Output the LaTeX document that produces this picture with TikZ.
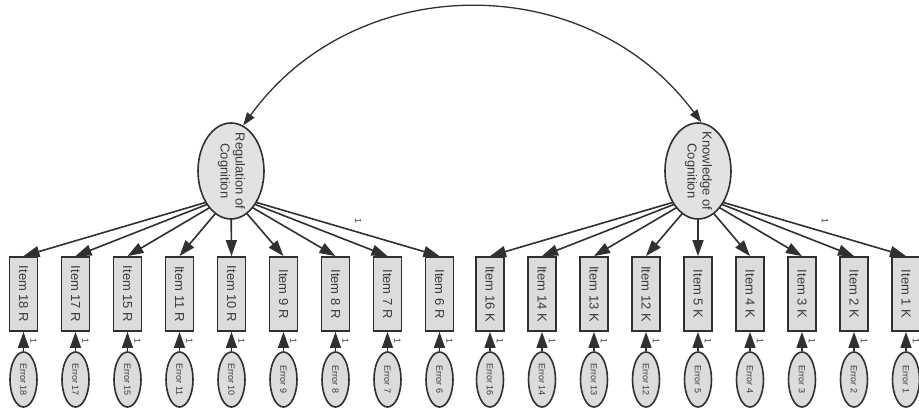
\documentclass[tikz,border=0pt]{standalone}
\usepackage{fontspec}
\setmainfont{Liberation Sans}
\usetikzlibrary{shapes.geometric,arrows.meta,positioning,calc,backgrounds}
\definecolor{boxfill}{HTML}{DCDCDC}
\definecolor{latfill}{HTML}{E2E2E2}
\definecolor{edge}{HTML}{303030}
\definecolor{txt}{HTML}{3A3A3A}
\newcommand{\vtext}[1]{\rotatebox[origin=c]{-90}{#1}}

\begin{document}
\begin{tikzpicture}[
  x=1pt, y=-1pt,
  latent/.style={ellipse, draw=edge, line width=1.6pt, fill=latfill, minimum width=66pt, minimum height=96pt, inner xsep=2pt, inner ysep=-10pt, text=txt, font=\fontsize{13}{15}\selectfont},
  item/.style={rectangle, draw=edge, line width=1.8pt, fill=boxfill, minimum width=28pt, minimum height=74pt, inner sep=0pt, text=txt, font=\fontsize{13}{15}\selectfont},
  errnode/.style={ellipse, draw=edge, line width=1.6pt, fill=boxfill, minimum width=27pt, minimum height=55pt, inner sep=0pt, text=txt, font=\fontsize{9}{11}\selectfont},
  load/.style={-{Triangle[length=16pt,width=11pt]}, line width=1.6pt, edge},
  corr/.style={{Triangle[length=13pt,width=9pt]}-{Triangle[length=13pt,width=9pt]}, line width=1.3pt, edge},
  one/.style={font=\fontsize{9}{11}\selectfont, text=txt, inner sep=0pt}
]
  \useasboundingbox (0,0) rectangle (919,408);

  % latent factors
  \node[latent] (reg) at (231,171) {\vtext{\begin{tabular}{@{}c@{}}Regulation of\\Cognition\end{tabular}}};
  \node[latent] (know) at (698,171) {\vtext{\begin{tabular}{@{}c@{}}Knowledge of\\Cognition\end{tabular}}};
  \coordinate (reghub) at ($(reg.center)+(0,24)$);
  \coordinate (knowhub) at ($(know.center)+(0,24)$);

  \draw[corr] (reg.75) .. controls (356,-31) and (588,-31) .. (know.86);

  % regulation items
  \foreach \n [count=\i from 0] in {18,17,15,11,10,9,8,7,6} {
    \node[item] (r\n) at (23.5+52*\i, 294) {\vtext{Item \n\ R}};
    \node[errnode] (er\n) at (23.5+52*\i, 379.5) {\vtext{Error \n}};
    \draw[load] (er\n) -- node[one, xshift=10pt] (ler\n) {\vtext{1}} (r\n);
  }

  % knowledge items
  \foreach \n [count=\i from 0] in {16,14,13,12,5,4,3,2,1} {
    \node[item] (k\n) at (490+52*\i, 294) {\vtext{Item \n\ K}};
    \node[errnode] (ek\n) at (490+52*\i, 379.5) {\vtext{Error \n}};
    \draw[load] (ek\n) -- node[one, xshift=10pt] (lek\n) {\vtext{1}} (k\n);
  }

  % loadings
  \begin{scope}[on background layer]
    \foreach \n in {18,17,15,11,10,9,8,7,6}
      \draw[load] (reghub) -- (r\n.north);
    \foreach \n in {16,14,13,12,5,4,3,2,1}
      \draw[load] (knowhub) -- (k\n.north);
  \end{scope}
  \path (reghub) -- node[one, pos=0.61, yshift=11pt] (lreg) {\vtext{1}} (r6.north);
  \path (knowhub) -- node[one, pos=0.61, yshift=11pt] (lknow) {\vtext{1}} (k1.north);
\end{tikzpicture}
\end{document}
